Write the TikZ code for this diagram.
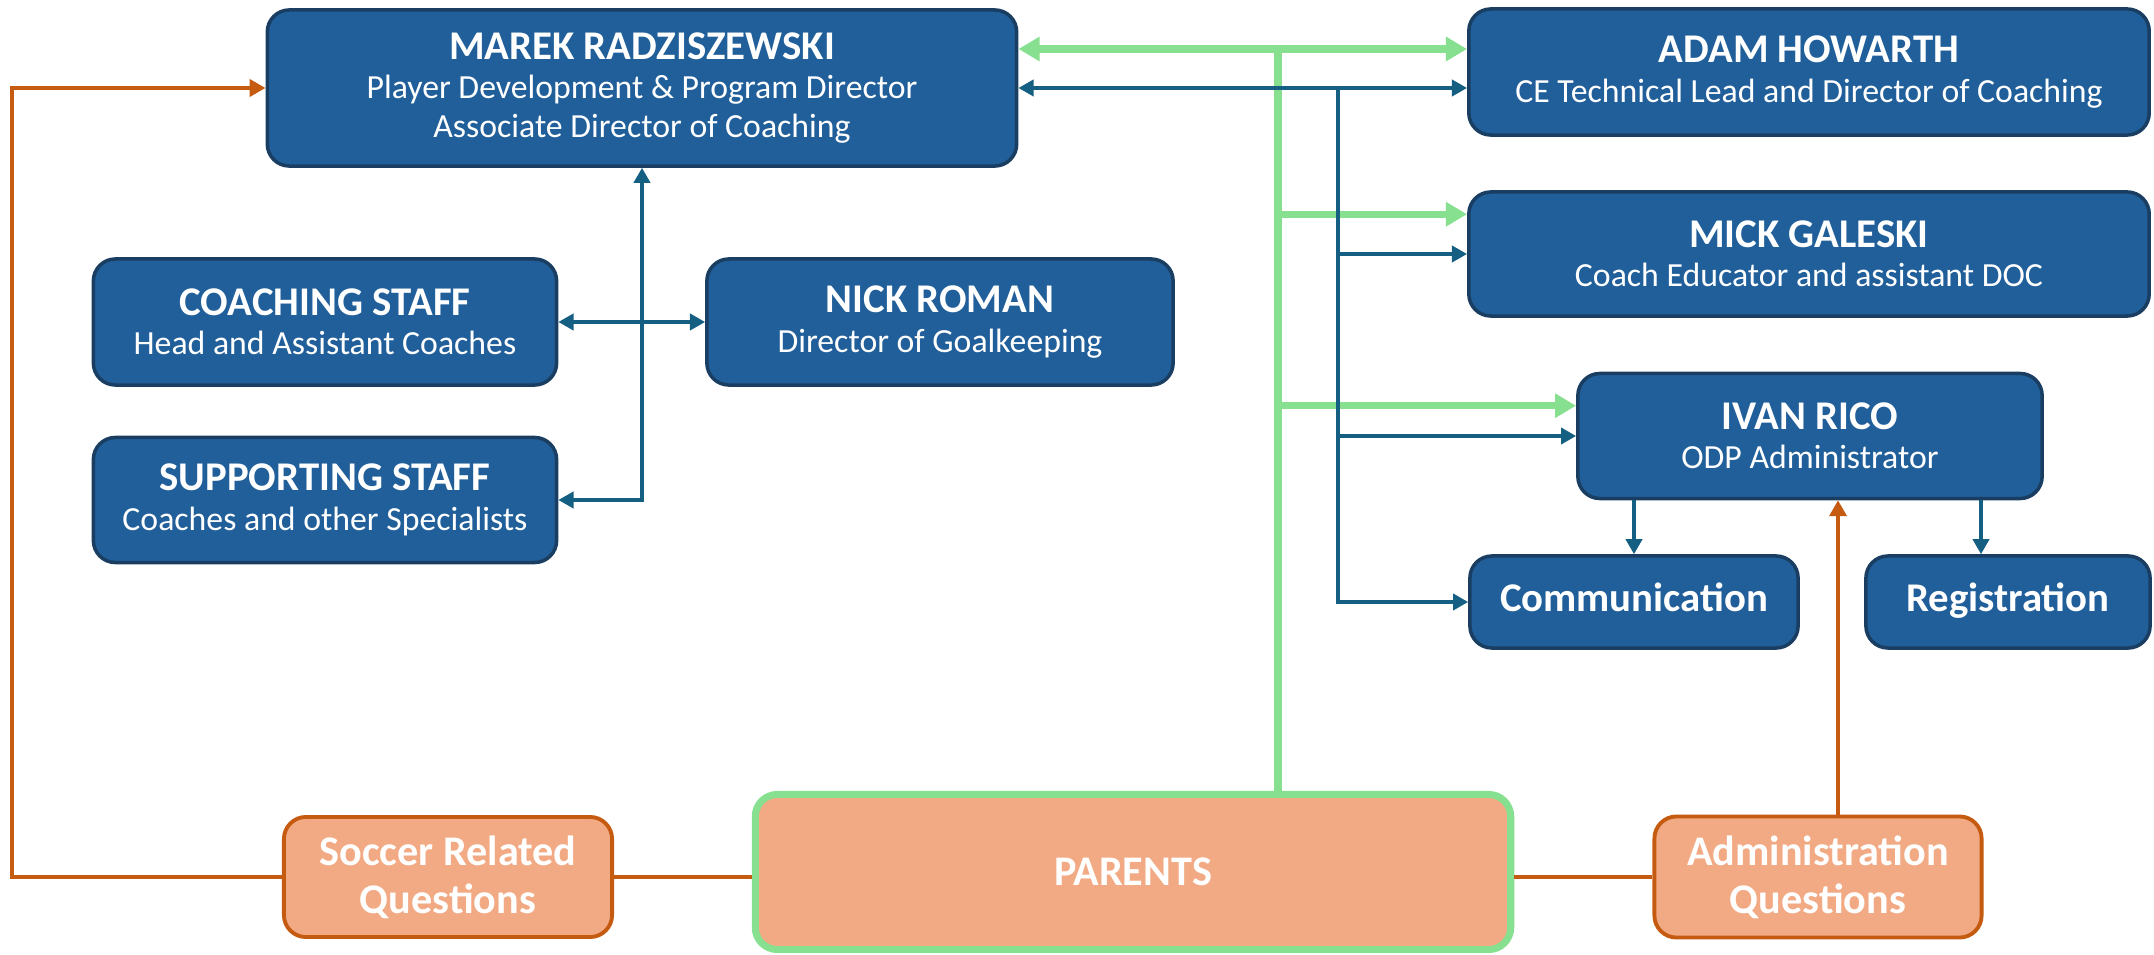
\documentclass[tikz,border=0pt]{standalone}
\usepackage{fontspec}
\setmainfont{Carlito}
\usetikzlibrary{arrows.meta}

\definecolor{boxblue}{HTML}{215F9A}
\definecolor{boxedge}{HTML}{1A3E62}
\definecolor{linkteal}{HTML}{156082}
\definecolor{linkgreen}{HTML}{86E08F}
\definecolor{linkorange}{HTML}{C55A11}
\definecolor{askfill}{HTML}{F2AA84}

\newcommand{\namefont}{\bfseries\fontsize{11.6}{11.2}\selectfont}

\begin{document}
\begin{tikzpicture}[x=0.01cm,y=-0.01cm,
  staff/.style={rectangle,rounded corners=0.22cm,fill=boxblue,draw=boxedge,
    line width=1pt,text=white,align=center,inner sep=0pt,
    font=\fontsize{9.6}{11.2}\selectfont},
  task/.style={staff,text height=8.2pt,text depth=2.6pt,font=\bfseries\fontsize{11.6}{13}\selectfont},
  ask/.style={rectangle,rounded corners=0.22cm,fill=askfill,draw=linkorange,
    line width=1.1pt,text=white,align=center,inner sep=0pt,
    font=\bfseries\fontsize{12}{13.7}\selectfont},
  tealline/.style={draw=linkteal,line width=1pt,>={Triangle[length=4.3pt,width=4.6pt]}},
  greenline/.style={draw=linkgreen,line width=2pt,>={Triangle[length=6pt,width=6.6pt]}},
  orangeline/.style={draw=linkorange,line width=1.1pt,>={Triangle[length=4.5pt,width=4.8pt]}}]

  \useasboundingbox (0,0) rectangle (2154,955);

  % staff boxes
  \node[staff,minimum width=7.49cm,minimum height=1.56cm] (marek) at (642,88)
    {{\namefont MAREK RADZISZEWSKI}\\Player Development \& Program Director\\Associate Director of Coaching};
  \node[staff,minimum width=6.8cm,minimum height=1.26cm] (adam) at (1809,72)
    {{\namefont ADAM HOWARTH}\\CE Technical Lead and Director of Coaching};
  \node[staff,minimum width=6.8cm,minimum height=1.24cm] (mick) at (1809,254)
    {{\namefont MICK GALESKI}\\Coach Educator and assistant DOC};
  \node[staff,minimum width=4.63cm,minimum height=1.26cm] (coach) at (325,322)
    {{\namefont COACHING STAFF}\\Head and Assistant Coaches};
  \node[staff,minimum width=4.66cm,minimum height=1.26cm] (nick) at (940,322)
    {{\namefont NICK ROMAN}\\Director of Goalkeeping};
  \node[staff,minimum width=4.63cm,minimum height=1.25cm] (support) at (325,500)
    {{\namefont SUPPORTING STAFF}\\Coaches and other Specialists};
  \node[staff,minimum width=4.64cm,minimum height=1.25cm] (ivan) at (1810,436)
    {{\namefont IVAN RICO}\\ODP Administrator};
  \node[task,minimum width=3.28cm,minimum height=0.92cm] (comm) at (1634,602) {Communication};
  \node[task,minimum width=2.84cm,minimum height=0.92cm] (reg) at (2008,602) {Registration};

  % question boxes
  \node[ask,minimum width=3.28cm,minimum height=1.2cm] (soccer) at (448,877) {Soccer Related\\Questions};
  \node[ask,draw=linkgreen,line width=2pt,minimum width=7.55cm,minimum height=1.55cm] (parents) at (1133,872) {PARENTS};
  \node[ask,minimum width=3.27cm,minimum height=1.21cm] (admin) at (1818,877) {Administration\\Questions};

  \coordinate (gjoin) at (1278,49);
  \coordinate (tjoin) at (1338,88);
  \coordinate (oleft) at (12,877);

  % parents link
  \draw[greenline,<->] (marek.east |- gjoin) -- (adam.west |- gjoin);
  \draw[greenline] (gjoin) -- (gjoin |- parents.north);
  \draw[greenline,->] ([yshift=-0.24cm]gjoin |- mick.north) -- ([yshift=-0.24cm]mick.north west);
  \draw[greenline,->] ([yshift=-0.34cm]gjoin |- ivan.north) -- ([yshift=-0.34cm]ivan.north west);

  % reporting lines
  \draw[tealline,<->] (marek.east) -- (adam.west |- marek.east);
  \draw[tealline,->] (tjoin) |- (comm.west);
  \draw[tealline,->] (tjoin |- mick.west) -- (mick.west);
  \draw[tealline,->] (tjoin |- ivan.west) -- (ivan.west);
  \draw[tealline,<->] (support.east) -| (marek.south);
  \draw[tealline,<->] (coach.east) -- (nick.west);
  \draw[tealline,->] (ivan.south -| comm.north) -- (comm.north);
  \draw[tealline,->] ([xshift=-0.27cm]ivan.south -| reg.north) -- ([xshift=-0.27cm]reg.north);

  % question routes
  \draw[orangeline,->] (soccer.west) -- (oleft) |- (marek.west);
  \draw[orangeline] (soccer.east) -- (soccer.east -| parents.west);
  \draw[orangeline] (parents.east |- admin.west) -- (admin.west);
  \draw[orangeline,->] ([xshift=0.2cm]admin.north) -- ([xshift=0.2cm]admin.north |- ivan.south);

\end{tikzpicture}
\end{document}
